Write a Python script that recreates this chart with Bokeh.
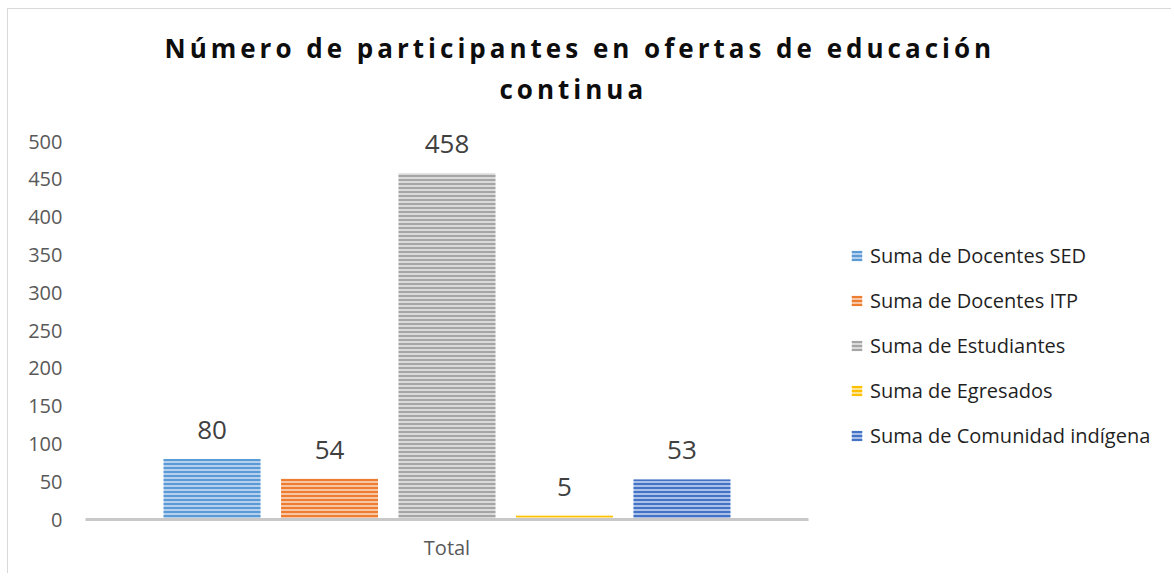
import json
from bokeh.plotting import figure
from bokeh.models import ColumnDataSource, Range1d, FixedTicker, Legend, LegendItem, Title
from bokeh.core.properties import value
from bokeh.embed import file_html
from bokeh.resources import INLINE

# ---- data ----
categories = ["Total"]
series = ["Suma de Docentes SED", "Suma de Docentes ITP", "Suma de Estudiantes",
          "Suma de Egresados", "Suma de Comunidad indígena"]
values = [80, 54, 458, 5, 53]
y_ticks = [0, 50, 100, 150, 200, 250, 300, 350, 400, 450, 500]
title_lines = ["Número de participantes en ofertas de educación", "continua"]

# ---- styles / layout ----
stripe_colors = ["#5B9BD5", "#ED7D31", "#A5A5A5", "#FFC000", "#4472C4"]
fill_colors = ["#B4D0EE", "#F8C6A4", "#DADADA", "#FFE391", "#ABC0E8"]
FONT = "Open Sans"
Y_TOP = 545          # plot area headroom above the 500 tick
BAND_PX = 723        # pixel width of the category band (plot area of the bars)
FRAME_PX = 1087      # frame also covers the legend area
X_END = FRAME_PX / BAND_PX

p = figure(width=1164, height=565,
           x_range=Range1d(0, X_END), y_range=Range1d(0, Y_TOP),
           output_backend="svg", toolbar_location=None, title=None,
           min_border_left=77, min_border_right=0,
           min_border_top=98, min_border_bottom=55)
p.outline_line_color = None
p.background_fill_color = "white"
p.border_fill_color = "white"
p.xgrid.visible = False
p.ygrid.visible = False
p.styles = {"margin-left": "7px", "margin-top": "8px",
            "border-left": "1px solid #D9D9D9", "border-top": "1px solid #D9D9D9"}

t2 = Title(text=title_lines[1], align="left", offset=414, standoff=1,
           text_font=FONT, text_font_size="26px", text_font_style="bold", text_color="#0D0D0D")
p.add_layout(t2, "above")
t1 = Title(text=title_lines[0], align="left", offset=79, standoff=5,
           text_font=FONT, text_font_size="26px", text_font_style="bold", text_color="#0D0D0D")
p.add_layout(t1, "above")

# category positions: band [k, k+1], centre k + 0.5
cat_pos = [k + 0.5 for k in range(len(categories))]

xa = p.xaxis[0]
xa.ticker = FixedTicker(ticks=cat_pos)
xa.major_label_overrides = {c: lab for c, lab in zip(cat_pos, categories)}
xa.bounds = (0, len(categories))
xa.axis_line_color = "#C8C8C8"
xa.axis_line_width = 3
xa.major_tick_line_color = None
xa.minor_tick_line_color = None
xa.major_tick_out = 0
xa.major_tick_in = 0
xa.major_label_text_font = FONT
xa.major_label_text_font_size = "20px"
xa.major_label_text_color = "#595959"
xa.major_label_standoff = 14

ya = p.yaxis[0]
ya.ticker = FixedTicker(ticks=y_ticks)
ya.axis_line_color = None
ya.major_tick_line_color = None
ya.minor_tick_line_color = None
ya.major_tick_out = 0
ya.major_tick_in = 0
ya.major_label_text_font = FONT
ya.major_label_text_font_size = "20px"
ya.major_label_text_color = "#595959"
ya.major_label_standoff = 23

n = len(series)
pitch = 0.1625
bar_w = 0.134
renderers = []
for i, (name, v) in enumerate(zip(series, values)):
    off = (i - (n - 1) / 2) * pitch
    src = ColumnDataSource(dict(x=[cat_pos[0] + off], val=[v], lab=[str(v)]))
    r = p.vbar(x="x", top="val", bottom=0, width=bar_w,
               source=src, fill_color=fill_colors[i], line_color=None,
               hatch_pattern="horizontal_line", hatch_color=stripe_colors[i],
               hatch_scale=4, hatch_weight=2)
    p.text(x="x", y="val", text="lab", source=src,
           text_align="center", text_baseline="alphabetic", y_offset=-29,
           text_font=value(FONT), text_font_size="26px", text_color="#404040")
    renderers.append(r)

legend = Legend(items=[LegendItem(label=s, renderers=[r]) for s, r in zip(series, renderers)],
                location=(765, 70), padding=0, margin=0, spacing=18,
                label_height=27, glyph_width=13, glyph_height=13, label_standoff=7,
                label_text_font=FONT, label_text_font_size="20px", label_text_color="#1F1F1F",
                border_line_color=None, background_fill_alpha=0)
p.add_layout(legend)

html = file_html(p, INLINE, title="Número de participantes")
js = """<script>
(function(){
  var T = %s; var LS = "4px";
  function walk(root){
    var ts = root.querySelectorAll("text");
    for (var i = 0; i < ts.length; i++) {
      var t = ts[i];
      if (T.indexOf(t.textContent) >= 0 && t.style.letterSpacing !== LS) { t.style.letterSpacing = LS; }
    }
    var all = root.querySelectorAll("*");
    for (var j = 0; j < all.length; j++) { if (all[j].shadowRoot) walk(all[j].shadowRoot); }
  }
  setInterval(function(){ walk(document); }, 30);
})();
</script>""" % json.dumps(title_lines)
html = html.replace("</body>", js + "</body>")
with open("out.html", "w", encoding="utf-8") as f:
    f.write(html)
